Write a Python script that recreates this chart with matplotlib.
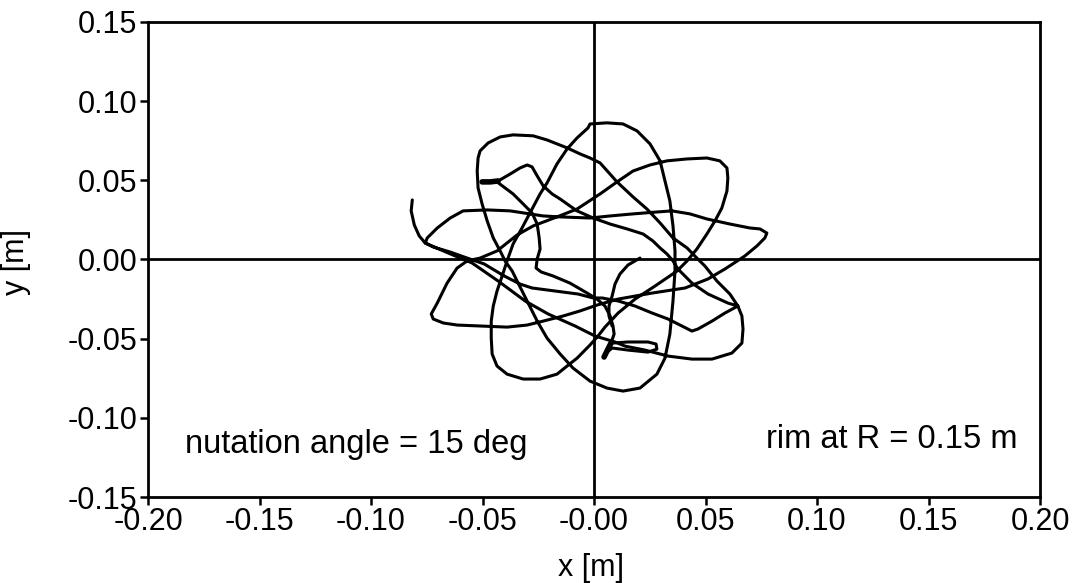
import numpy as np
import matplotlib
matplotlib.use("Agg")
import matplotlib.pyplot as plt

plt.rcParams["font.family"] = ["Liberation Sans", "DejaVu Sans"]

x_ticks = [-0.20, -0.15, -0.10, -0.05, 0.0, 0.05, 0.10, 0.15, 0.20]
x_tick_labels = ["-0.20", "-0.15", "-0.10", "-0.05", "-0.00", "0.05", "0.10", "0.15", "0.20"]
y_ticks = [-0.15, -0.10, -0.05, 0.0, 0.05, 0.10, 0.15]
y_tick_labels = ["-0.15", "-0.10", "-0.05", "0.00", "0.05", "0.10", "0.15"]

# traced tip trajectory, (x, y) in metres
seg_hook = np.array([
    (-0.0815, 0.0376), (-0.0820, 0.0307), (-0.0806, 0.0218), (-0.0784, 0.0149),
    (-0.0757, 0.0104), (-0.0654, 0.0041), (-0.0547, -0.0022), (-0.0430, -0.0136),
    (-0.0309, -0.0262), (-0.0206, -0.0344), (-0.0085, -0.0420), (0.0004, -0.0483),
    (0.0094, -0.0521), (0.0139, -0.0547),
    (0.0228, -0.0572), (0.0332, -0.0610), (0.0439, -0.0629),
    (0.0529, -0.0629), (0.0618, -0.0591), (0.0663, -0.0528), (0.0668, -0.0439),
    (0.0663, -0.0357), (0.0645, -0.0294), (0.0609, -0.0218), (0.0551, -0.0136),
    (0.0497, -0.0041), (0.0461, 0.0009), (0.0417, 0.0073), (0.0354, 0.0136),
    (0.0296, 0.0231), (0.0237, 0.0319), (0.0175, 0.0395), (0.0103, 0.0490),
    (0.0027, 0.0610),
])

seg_nw = np.array([
    (-0.0018, 0.0641), (-0.0063, 0.0667), (-0.0121, 0.0705), (-0.0211, 0.0755),
    (-0.0273, 0.0781), (-0.0363, 0.0787), (-0.0421, 0.0774), (-0.0475, 0.0736),
    (-0.0511, 0.0686), (-0.0520, 0.0641), (-0.0524, 0.0559), (-0.0520, 0.0452),
    (-0.0502, 0.0351), (-0.0479, 0.0243), (-0.0452, 0.0136), (-0.0421, 0.0054),
    (-0.0399, -0.0009), (-0.0367, -0.0073), (-0.0345, -0.0136), (-0.0300, -0.0262),
    (-0.0255, -0.0389), (-0.0211, -0.0496), (-0.0152, -0.0597), (-0.0094, -0.0686),
    (-0.0018, -0.0768), (0.0058, -0.0812), (0.0130, -0.0831), (0.0206, -0.0812),
    (0.0282, -0.0724), (0.0318, -0.0623), (0.0340, -0.0471), (0.0354, -0.0262),
    (0.0363, -0.0073), (0.0363, 0.0054), (0.0354, 0.0212), (0.0340, 0.0370),
    (0.0318, 0.0496), (0.0296, 0.0623), (0.0251, 0.0730), (0.0193, 0.0812),
    (0.0130, 0.0856), (0.0058, 0.0863), (-0.0018, 0.0856),
])

seg_sw = np.array([
    (-0.0027, 0.0831), (-0.0076, 0.0768), (-0.0121, 0.0698), (-0.0166, 0.0604),
    (-0.0211, 0.0483), (-0.0242, 0.0414), (-0.0287, 0.0294), (-0.0323, 0.0199),
    (-0.0363, 0.0098), (-0.0390, -0.0009), (-0.0412, -0.0104), (-0.0435, -0.0199),
    (-0.0452, -0.0294), (-0.0461, -0.0389), (-0.0461, -0.0496), (-0.0457, -0.0597),
    (-0.0435, -0.0673), (-0.0390, -0.0724), (-0.0318, -0.0755), (-0.0242, -0.0755),
    (-0.0166, -0.0724), (-0.0121, -0.0673), (-0.0076, -0.0623), (-0.0018, -0.0540),
    (0.0018, -0.0483), (0.0049, -0.0427), (0.0108, -0.0338), (0.0184, -0.0250),
    (0.0273, -0.0168), (0.0372, -0.0073), (0.0417, -0.0009), (0.0461, 0.0066),
    (0.0506, 0.0161), (0.0542, 0.0243), (0.0573, 0.0325), (0.0596, 0.0433),
    (0.0600, 0.0515), (0.0596, 0.0578), (0.0564, 0.0623), (0.0506, 0.0641),
    (0.0417, 0.0635), (0.0327, 0.0623), (0.0251, 0.0597), (0.0175, 0.0559),
    (0.0103, 0.0490), (0.0027, 0.0414), (-0.0076, 0.0319), (-0.0166, 0.0269),
    (-0.0273, 0.0212), (-0.0345, 0.0155), (-0.0435, 0.0054), (-0.0511, 0.0009),
    (-0.0569, -0.0009), (-0.0614, -0.0054), (-0.0659, -0.0149), (-0.0703, -0.0275),
    (-0.0730, -0.0344), (-0.0721, -0.0376), (-0.0676, -0.0401), (-0.0614, -0.0414),
    (-0.0511, -0.0420), (-0.0390, -0.0427), (-0.0300, -0.0414), (-0.0228, -0.0389),
    (-0.0139, -0.0357), (-0.0063, -0.0325), (0.0013, -0.0288), (0.0108, -0.0250),
    (0.0260, -0.0212), (0.0408, -0.0180), (0.0511, -0.0123), (0.0587, -0.0060),
    (0.0676, 0.0022), (0.0730, 0.0085), (0.0766, 0.0136), (0.0775, 0.0167),
    (0.0744, 0.0193), (0.0699, 0.0199), (0.0609, 0.0224), (0.0506, 0.0256),
    (0.0430, 0.0288), (0.0349, 0.0307), (0.0282, 0.0300), (0.0175, 0.0288),
    (0.0072, 0.0275), (-0.0018, 0.0262), (-0.0152, 0.0269), (-0.0228, 0.0275),
    (-0.0287, 0.0288), (-0.0376, 0.0307), (-0.0479, 0.0313), (-0.0587, 0.0307),
    (-0.0645, 0.0262), (-0.0703, 0.0199), (-0.0748, 0.0136), (-0.0757, 0.0104),
])

seg_cross = np.array([
    (-0.0721, 0.0079), (-0.0645, 0.0047), (-0.0569, 0.0009), (-0.0493, -0.0028),
    (-0.0403, -0.0104), (-0.0332, -0.0155), (-0.0278, -0.0180), (-0.0175, -0.0199),
    (-0.0072, -0.0218), (-0.0004, -0.0243), (0.0036, -0.0243), (0.0108, -0.0262),
    (0.0184, -0.0294), (0.0260, -0.0338), (0.0332, -0.0376), (0.0394, -0.0420),
    (0.0439, -0.0452), (0.0466, -0.0439), (0.0529, -0.0389), (0.0587, -0.0338),
    (0.0645, -0.0294), (0.0600, -0.0275), (0.0511, -0.0218), (0.0439, -0.0149),
    (0.0376, -0.0060), (0.0354, -0.0009), (0.0327, 0.0035), (0.0296, 0.0073),
    (0.0264, 0.0117), (0.0220, 0.0161), (0.0148, 0.0193), (0.0072, 0.0224),
    (-0.0004, 0.0262), (-0.0076, 0.0307), (-0.0108, 0.0338), (-0.0152, 0.0382),
    (-0.0188, 0.0414), (-0.0228, 0.0465), (-0.0255, 0.0528), (-0.0278, 0.0585),
    (-0.0300, 0.0597), (-0.0332, 0.0578), (-0.0376, 0.0540), (-0.0430, 0.0496),
    (-0.0466, 0.0490), (-0.0502, 0.0490),
])

branch_blob = np.array([
    (-0.0435, 0.0490), (-0.0363, 0.0414), (-0.0318, 0.0351), (-0.0278, 0.0294),
    (-0.0255, 0.0224), (-0.0246, 0.0136), (-0.0242, 0.0066), (-0.0255, 0.0003),
    (-0.0260, -0.0054), (-0.0237, -0.0079), (-0.0184, -0.0104), (-0.0108, -0.0149),
    (-0.0031, -0.0212), (0.0013, -0.0250), (0.0049, -0.0294), (0.0072, -0.0357),
    (0.0085, -0.0420), (0.0090, -0.0471), (0.0076, -0.0528), (0.0058, -0.0578),
    (0.0045, -0.0616),
])

branch_mid = np.array([
    (0.0206, 0.0009), (0.0152, -0.0035), (0.0116, -0.0092), (0.0094, -0.0155),
    (0.0081, -0.0231), (0.0067, -0.0294), (0.0067, -0.0357), (0.0081, -0.0420),
])

small_loop = np.array([
    (0.0081, -0.0528), (0.0152, -0.0521), (0.0242, -0.0521), (0.0278, -0.0534),
    (0.0282, -0.0566), (0.0242, -0.0585), (0.0152, -0.0572), (0.0081, -0.0559),
    (0.0054, -0.0591),
])


def main():
    fig = plt.figure(figsize=(10.75, 5.83), dpi=100)
    ax = fig.add_axes([0.1377, 0.1475, 0.8298, 0.8148])

    path = np.vstack([seg_hook, seg_nw, seg_sw, seg_cross])
    line_kw = dict(color="black", linewidth=2.2, solid_joinstyle="round",
                   solid_capstyle="round")
    ax.plot(path[:, 0], path[:, 1], **line_kw)
    for branch in (branch_blob, branch_mid, small_loop):
        ax.plot(branch[:, 0], branch[:, 1], **line_kw)

    # pen blobs at the loose ends
    ax.plot(seg_cross[-3:, 0], seg_cross[-3:, 1], color="black", linewidth=4,
            solid_capstyle="round")
    ax.plot(branch_blob[-3:, 0], branch_blob[-3:, 1], color="black", linewidth=4,
            solid_capstyle="round")

    ax.axhline(0, color="black", linewidth=2.0)
    ax.axvline(0, color="black", linewidth=2.0)

    ax.set_xlim(-0.2, 0.2)
    ax.set_ylim(-0.15, 0.15)
    ax.set_xticks(x_ticks)
    ax.set_xticklabels(x_tick_labels)
    ax.set_yticks(y_ticks)
    ax.set_yticklabels(y_tick_labels)
    ax.tick_params(direction="out", length=6, width=1.8, labelsize=22,
                   top=False, right=False, pad=1.5)
    for spine in ax.spines.values():
        spine.set_linewidth(2.0)

    ax.text(0.0415, 0.093, "nutation angle = 15 deg", transform=ax.transAxes,
            fontsize=23.5, ha="left", va="baseline")
    ax.text(0.975, 0.103, "rim at R = 0.15 m", transform=ax.transAxes,
            fontsize=23.5, ha="right", va="baseline")

    fig.text(591 / 1075, 1 - 568 / 583, "x [m]", fontsize=22, ha="center", va="center")
    fig.text(16 / 1075, 1 - 262 / 583, "y [m]", fontsize=22, ha="center", va="center",
             rotation=90)

    fig.savefig("out.png", dpi=100)


if __name__ == "__main__":
    main()
